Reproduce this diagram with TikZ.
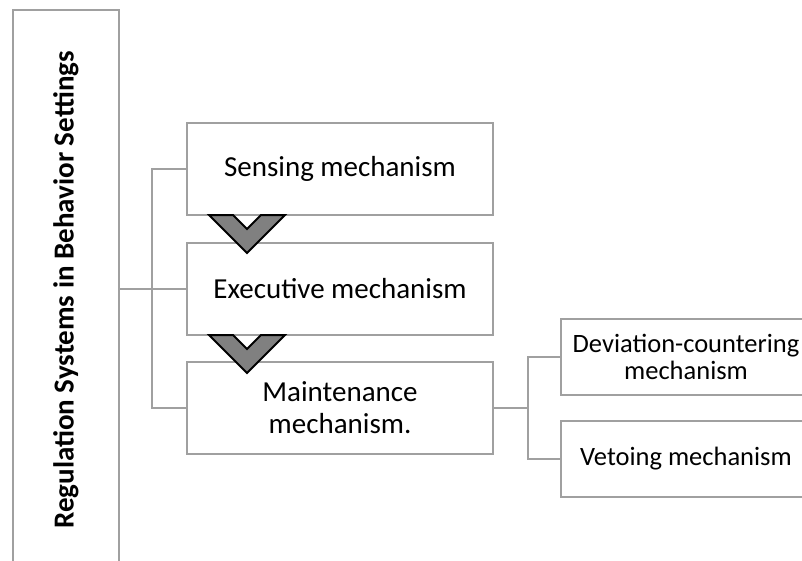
\documentclass[tikz,border=0pt]{standalone}
\usepackage{fontspec}
\setmainfont{Carlito}
\definecolor{linegray}{RGB}{160,160,160}
\definecolor{chevgray}{RGB}{128,128,128}
\tikzset{
  box/.style={draw=linegray, line width=2pt, fill=white, rectangle, inner sep=0pt,
    font=\fontsize{29}{32}\selectfont, align=center},
  subbox/.style={box, font=\fontsize{26.5}{27}\selectfont},
  link/.style={draw=linegray, line width=2pt},
  chevron/.style={draw=black, line width=2pt, fill=chevgray, line join=miter}
}
\begin{document}
\begin{tikzpicture}[x=1pt, y=-1pt]
  \useasboundingbox (0,0) rectangle (802,560);
  \clip (0,0) rectangle (802,560);
  \fill[white] (0,0) rectangle (802,560);
  % main column
  \node[box, minimum width=106, minimum height=560] (reg) at (66,290) {};
  \node[rotate=90, font=\bfseries\fontsize{29}{32}\selectfont] (regtext) at (reg.center)
    {Regulation Systems in Behavior Settings};
  \node[box, minimum width=306, minimum height=92] (sense) at (340,169) {Sensing mechanism};
  \node[box, minimum width=306, minimum height=92] (exec) at (340,289) {Executive mechanism};
  \node[box, minimum width=306, minimum height=92] (maint) at (340,408) {Maintenance\\mechanism.};
  % sub boxes
  \node[subbox, minimum width=250, minimum height=76] (dev) at (686,357) {Deviation-countering\\mechanism};
  \node[subbox, minimum width=250, minimum height=76] (veto) at (686,459) {Vetoing mechanism};
  % connectors
  \draw[link] (reg.east |- exec.west) -- (exec.west);
  \draw[link] (sense.west) -- ++(-34,0) |- (maint.west);
  \draw[link] (maint.east) -- ++(34,0) coordinate (fork);
  \draw[link] (dev.west) -| (fork) |- (veto.west);
  % chevrons
  \foreach \y in {215,335} {
    \draw[chevron] (209,\y) -- (233,\y) -- (247,\y+14) -- (261,\y) -- (285,\y)
      -- (247,\y+38) -- cycle;
  }
\end{tikzpicture}
\end{document}
